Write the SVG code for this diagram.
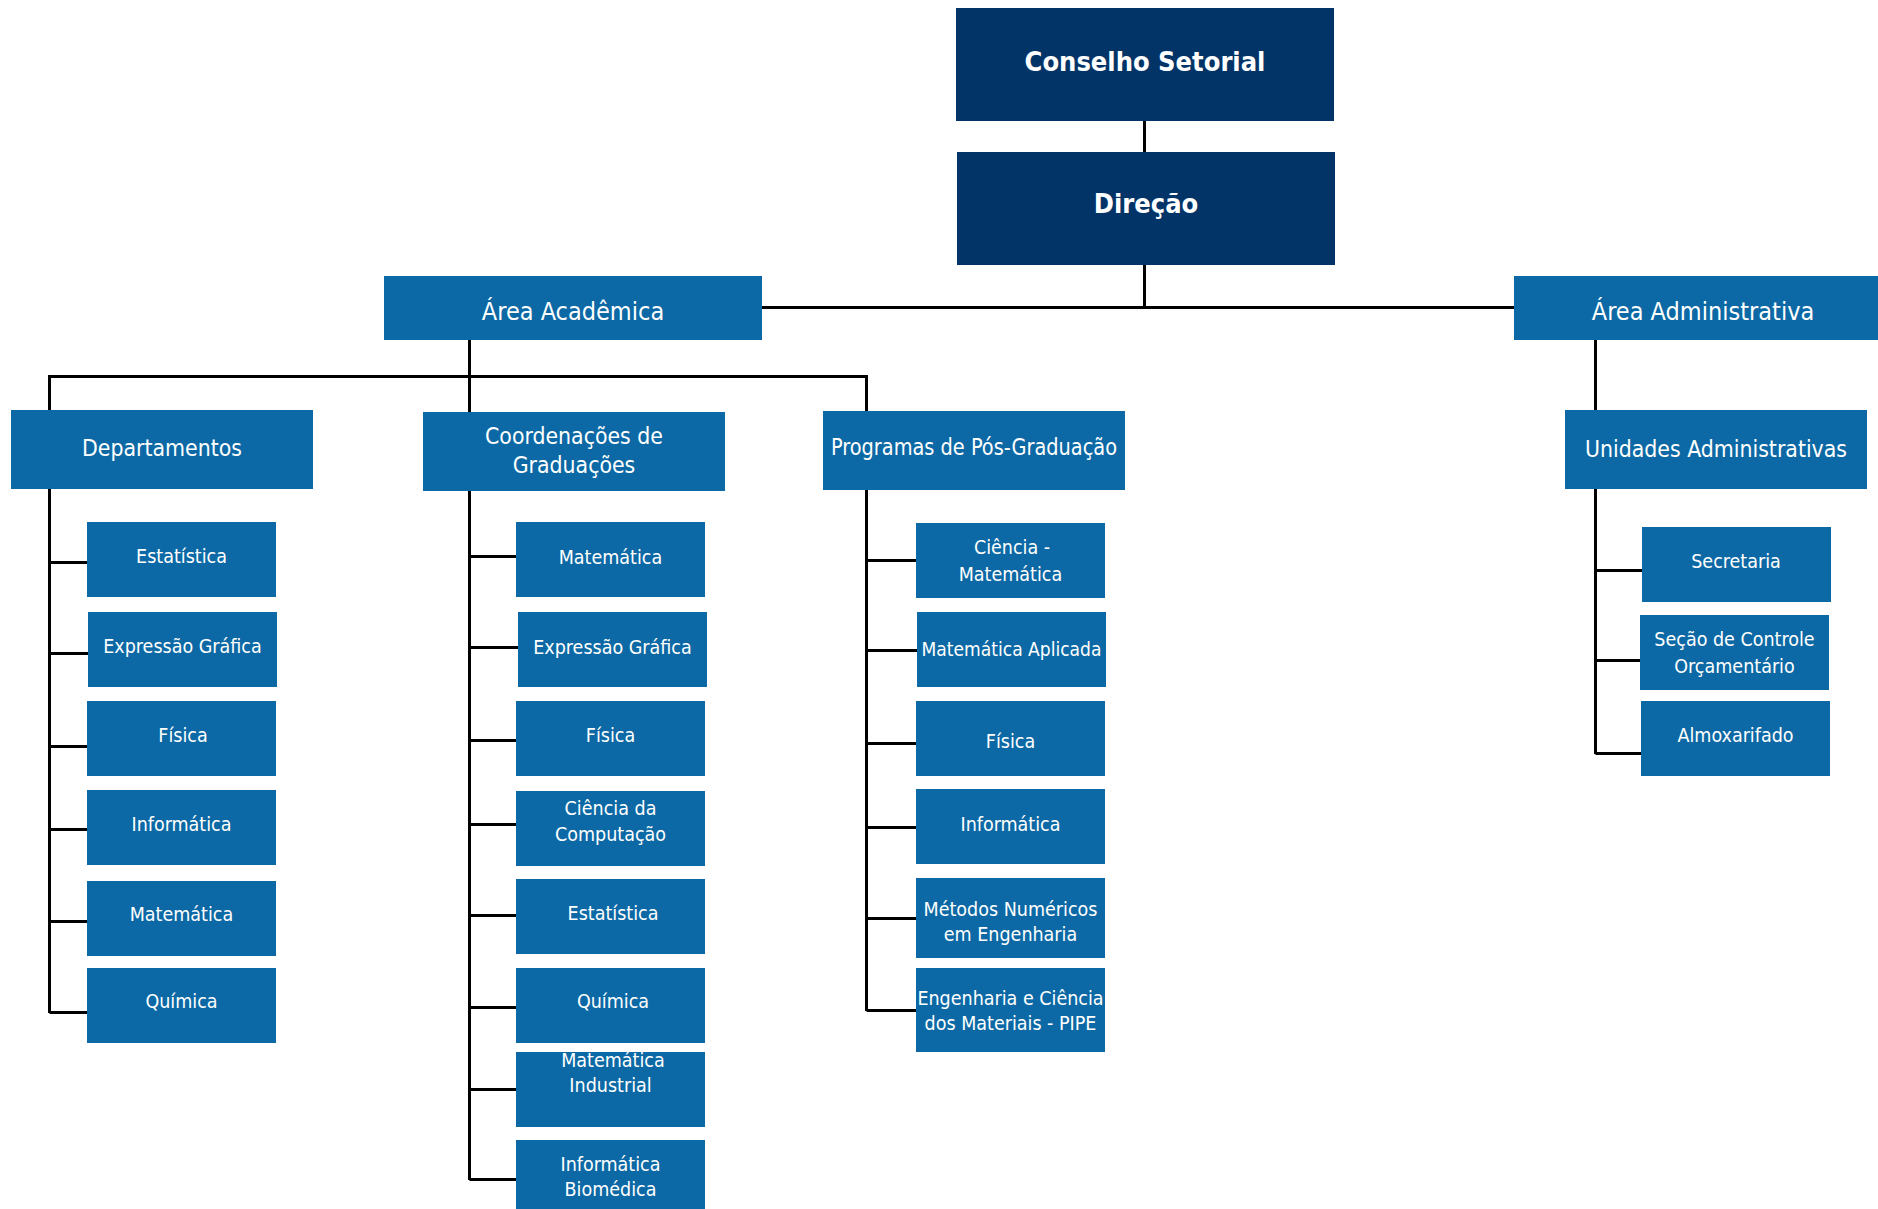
<svg xmlns="http://www.w3.org/2000/svg" width="1878" height="1209" viewBox="0 0 1878 1209">
<style>
.dark{fill:#023467}
.blue{fill:#0C69A5}
text{fill:#ffffff;font-family:"DejaVu Sans Condensed","DejaVu Sans",sans-serif;font-stretch:condensed;text-anchor:middle}
.tb{font-size:27px;font-weight:bold}
.t1{font-size:25px}
.t2{font-size:22.8px}
.t3{font-size:19.5px}
.conn path{stroke:#000000;stroke-width:3;fill:none}
</style>
<rect width="1878" height="1209" fill="#ffffff"/>
<g class="conn" id="connectors">
<path d="M1144.5 121V308"/>
<path d="M762 307.5H1514"/>
<path d="M469.5 340V377"/>
<path d="M48 376.5H868"/>
<path d="M49.5 376V1013"/>
<path d="M49.5 562.5H87M49.5 653.5H88M49.5 746.5H87M49.5 829.5H87M49.5 921.5H87M49.5 1012.5H87"/>
<path d="M469.5 376V1180"/>
<path d="M469.5 556.5H516M469.5 647.5H518M469.5 740.5H516M469.5 824.5H516M469.5 915.5H516M469.5 1007.5H516M469.5 1089.5H516M469.5 1179.5H516"/>
<path d="M866.5 376V1011"/>
<path d="M866.5 560.5H916M866.5 650.5H917M866.5 743.5H916M866.5 827.5H916M866.5 918.5H916M866.5 1010.5H916"/>
<path d="M1595.5 340V754"/>
<path d="M1595.5 570.5H1642M1595.5 660.5H1640M1595.5 753.5H1641"/>
</g>
<g id="conselho"><rect class="dark" x="956" y="8" width="378" height="113"/><text class="tb" x="1145" y="71">Conselho Setorial</text></g>
<g id="direcao"><rect class="dark" x="957" y="152" width="378" height="113"/><text class="tb" x="1146" y="213">Direção</text></g>
<g id="area-academica"><rect class="blue" x="384" y="276" width="378" height="64"/><text class="t1" x="573" y="320">Área Acadêmica</text></g>
<g id="area-administrativa"><rect class="blue" x="1514" y="276" width="378" height="64"/><text class="t1" x="1703" y="320">Área Administrativa</text></g>
<g id="departamentos"><rect class="blue" x="11" y="410" width="302" height="79"/><text class="t2" x="162" y="456">Departamentos</text></g>
<g id="coordenacoes"><rect class="blue" x="423" y="412" width="302" height="79"/><text class="t2" x="574" y="444">Coordenações de</text><text class="t2" x="574" y="473">Graduações</text></g>
<g id="programas"><rect class="blue" x="823" y="411" width="302" height="79"/><text class="t2" x="974" y="455" textLength="286" lengthAdjust="spacingAndGlyphs">Programas de Pós-Graduação</text></g>
<g id="unidades"><rect class="blue" x="1565" y="410" width="302" height="79"/><text class="t2" x="1716" y="457">Unidades Administrativas</text></g>
<g id="dep-estatistica"><rect class="blue" x="87" y="522" width="189" height="75"/><text class="t3" x="181.5" y="563">Estatística</text></g>
<g id="dep-expressao"><rect class="blue" x="88" y="612" width="189" height="75"/><text class="t3" x="182.5" y="653">Expressão Gráfica</text></g>
<g id="dep-fisica"><rect class="blue" x="87" y="701" width="189" height="75"/><text class="t3" x="183" y="742">Física</text></g>
<g id="dep-informatica"><rect class="blue" x="87" y="790" width="189" height="75"/><text class="t3" x="181.5" y="831">Informática</text></g>
<g id="dep-matematica"><rect class="blue" x="87" y="881" width="189" height="75"/><text class="t3" x="181.5" y="921">Matemática</text></g>
<g id="dep-quimica"><rect class="blue" x="87" y="968" width="189" height="75"/><text class="t3" x="181.5" y="1008">Química</text></g>
<g id="coord-matematica"><rect class="blue" x="516" y="522" width="189" height="75"/><text class="t3" x="610.5" y="564">Matemática</text></g>
<g id="coord-expressao"><rect class="blue" x="518" y="612" width="189" height="75"/><text class="t3" x="612.5" y="654">Expressão Gráfica</text></g>
<g id="coord-fisica"><rect class="blue" x="516" y="701" width="189" height="75"/><text class="t3" x="610.5" y="742">Física</text></g>
<g id="coord-ciencia-computacao"><rect class="blue" x="516" y="791" width="189" height="75"/><text class="t3" x="610.5" y="815">Ciência da</text><text class="t3" x="610.5" y="841">Computação</text></g>
<g id="coord-estatistica"><rect class="blue" x="516" y="879" width="189" height="75"/><text class="t3" x="613" y="920">Estatística</text></g>
<g id="coord-quimica"><rect class="blue" x="516" y="968" width="189" height="75"/><text class="t3" x="613" y="1008">Química</text></g>
<g id="coord-matematica-industrial"><rect class="blue" x="516" y="1052" width="189" height="75"/><text class="t3" x="613" y="1067">Matemática</text><text class="t3" x="610.5" y="1092">Industrial</text></g>
<g id="coord-informatica-biomedica"><rect class="blue" x="516" y="1140" width="189" height="75"/><text class="t3" x="610.5" y="1171">Informática</text><text class="t3" x="610.5" y="1196">Biomédica</text></g>
<g id="pos-ciencia-matematica"><rect class="blue" x="916" y="523" width="189" height="75"/><text class="t3" x="1012" y="554">Ciência -</text><text class="t3" x="1010.5" y="581">Matemática</text></g>
<g id="pos-matematica-aplicada"><rect class="blue" x="917" y="612" width="189" height="75"/><text class="t3" x="1011.5" y="656" textLength="180" lengthAdjust="spacingAndGlyphs">Matemática Aplicada</text></g>
<g id="pos-fisica"><rect class="blue" x="916" y="701" width="189" height="75"/><text class="t3" x="1010.5" y="748">Física</text></g>
<g id="pos-informatica"><rect class="blue" x="916" y="789" width="189" height="75"/><text class="t3" x="1010.5" y="831">Informática</text></g>
<g id="pos-metodos-numericos"><rect class="blue" x="916" y="878" width="189" height="80"/><text class="t3" x="1010.5" y="916">Métodos Numéricos</text><text class="t3" x="1010.5" y="941">em Engenharia</text></g>
<g id="pos-engenharia-materiais"><rect class="blue" x="916" y="968" width="189" height="84"/><text class="t3" x="1010.5" y="1005">Engenharia e Ciência</text><text class="t3" x="1010.5" y="1030">dos Materiais - PIPE</text></g>
<g id="adm-secretaria"><rect class="blue" x="1642" y="527" width="189" height="75"/><text class="t3" x="1736" y="568">Secretaria</text></g>
<g id="adm-secao-controle"><rect class="blue" x="1640" y="615" width="189" height="75"/><text class="t3" x="1734.5" y="646">Seção de Controle</text><text class="t3" x="1734.5" y="673">Orçamentário</text></g>
<g id="adm-almoxarifado"><rect class="blue" x="1641" y="701" width="189" height="75"/><text class="t3" x="1735.5" y="742">Almoxarifado</text></g>
</svg>
